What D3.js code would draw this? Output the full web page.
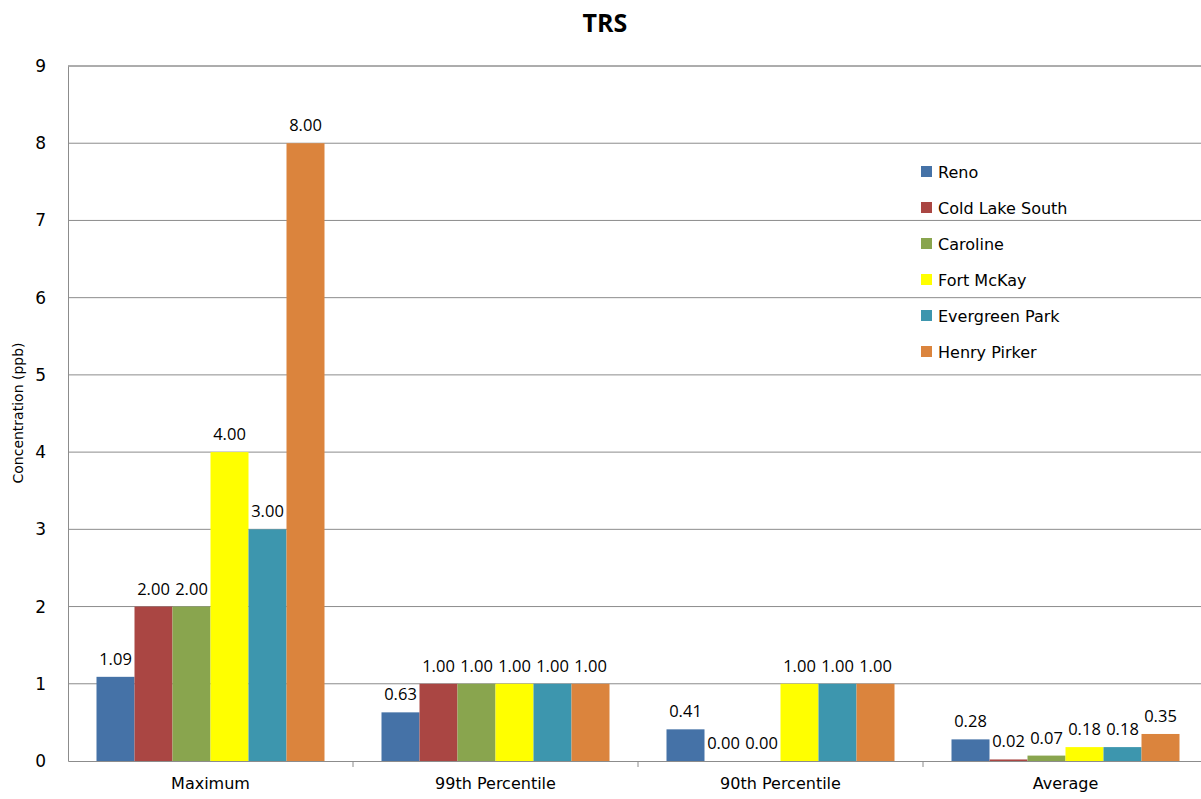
<!DOCTYPE html>
<html>
<head>
<meta charset="utf-8">
<script src="https://cdn.jsdelivr.net/npm/d3@7/dist/d3.min.js"></script>
<style>
	body { margin: 0; background: #fff; }
	svg text { fill: #000; }
</style>
</head>
<body>
<svg id="chart" width="1201" height="799"></svg>
<script>
// Chart data
const categories = ['Maximum', '99th Percentile', '90th Percentile', 'Average'];
const stations = ['Reno', 'Cold Lake South', 'Caroline', 'Fort McKay', 'Evergreen Park', 'Henry Pirker'];
const stationColors = ['#4572A7', '#AA4643', '#89A54E', '#FFFF00', '#3D96AE', '#DB843D'];
const reno = [1.09, 0.63, 0.41, 0.28];
const coldLakeSouth = [2.00, 1.00, 0.00, 0.02];
const caroline = [2.00, 1.00, 0.00, 0.07];
const fortMcKay = [4.00, 1.00, 1.00, 0.18];
const evergreenPark = [3.00, 1.00, 1.00, 0.18];
const henryPirker = [8.00, 1.00, 1.00, 0.35];
const yTicks = [0, 1, 2, 3, 4, 5, 6, 7, 8, 9];

const seriesValues = [reno, coldLakeSouth, caroline, fortMcKay, evergreenPark, henryPirker];
const labelFont = '"Century Gothic", "DejaVu Sans", sans-serif';

const svg = d3.select('#chart');
const plot = { left: 68, top: 66, right: 1208, bottom: 761 };

const x0 = d3.scaleBand()
	.domain(categories)
	.range([plot.left, plot.right]);
const x1 = d3.scaleBand()
	.domain(stations)
	.range([x0.bandwidth() * 0.1, x0.bandwidth() * 0.9]);
const y = d3.scaleLinear()
	.domain([0, 9])
	.range([plot.bottom, plot.top]);
const color = d3.scaleOrdinal().domain(stations).range(stationColors);

// gridlines
svg.append('g')
	.selectAll('line')
	.data(yTicks.filter(t => t > 0))
	.join('line')
	.attr('x1', plot.left)
	.attr('x2', 1201)
	.attr('y1', d => y(d))
	.attr('y2', d => y(d))
	.attr('stroke', d => d === 9 ? '#5a5a5a' : '#8c8c8c')
	.attr('stroke-width', 1);

// y axis
const yAxis = svg.append('g')
	.attr('transform', `translate(${plot.left},0)`)
	.call(d3.axisLeft(y).tickValues(yTicks).tickSize(0).tickPadding(22));
yAxis.select('.domain').attr('stroke', '#8c8c8c');
yAxis.selectAll('text')
	.style('font-family', labelFont)
	.style('font-size', '17px')
	.attr('fill', '#000');

// x axis
const xAxis = svg.append('g')
	.attr('transform', `translate(0,${plot.bottom})`)
	.call(d3.axisBottom(x0).tickSize(0).tickPadding(17));
xAxis.select('.domain').attr('stroke', '#8c8c8c');
xAxis.selectAll('text')
	.style('font-family', labelFont)
	.style('font-size', '16px')
	.attr('fill', '#000');
xAxis.selectAll('.sep')
	.data(categories.slice(1))
	.join('line')
	.attr('class', 'sep')
	.attr('x1', d => x0(d))
	.attr('x2', d => x0(d))
	.attr('y1', 0)
	.attr('y2', 6)
	.attr('stroke', '#8c8c8c');

// bars
const groups = svg.append('g')
	.selectAll('g')
	.data(categories)
	.join('g')
	.attr('transform', d => `translate(${x0(d)},0)`);

const cells = groups.selectAll('g')
	.data((d, i) => stations.map((s, j) => ({ station: s, value: seriesValues[j][i] })))
	.join('g');

cells.append('rect')
	.attr('x', d => x1(d.station))
	.attr('y', d => y(d.value))
	.attr('width', x1.bandwidth())
	.attr('height', d => y(0) - y(d.value))
	.attr('fill', d => color(d.station));

cells.append('text')
	.attr('x', d => x1(d.station) + x1.bandwidth() / 2)
	.attr('y', d => y(d.value) - 12)
	.attr('text-anchor', 'middle')
	.style('font-family', '"Open Sans", sans-serif')
	.style('font-size', '16.5px')
	.text(d => d.value.toFixed(2));

// title
svg.append('text')
	.attr('x', 605)
	.attr('y', 32)
	.attr('text-anchor', 'middle')
	.style('font-family', '"Open Sans", sans-serif')
	.style('font-weight', 'bold')
	.style('font-size', '25px')
	.text('TRS');

svg.append('text')
	.attr('transform', 'translate(23,413) rotate(-90)')
	.attr('text-anchor', 'middle')
	.style('font-family', labelFont)
	.style('font-size', '14px')
	.text('Concentration (ppb)');

// legend
const legend = svg.append('g')
	.selectAll('g')
	.data(stations)
	.join('g')
	.attr('transform', (d, i) => `translate(921,${172 + i * 36})`);
legend.append('rect')
	.attr('x', 0)
	.attr('y', -6)
	.attr('width', 11)
	.attr('height', 11)
	.attr('fill', d => color(d));
legend.append('text')
	.attr('x', 17)
	.attr('y', 6)
	.style('font-family', labelFont)
	.style('font-size', '16px')
	.text(d => d);
</script>
</body>
</html>
